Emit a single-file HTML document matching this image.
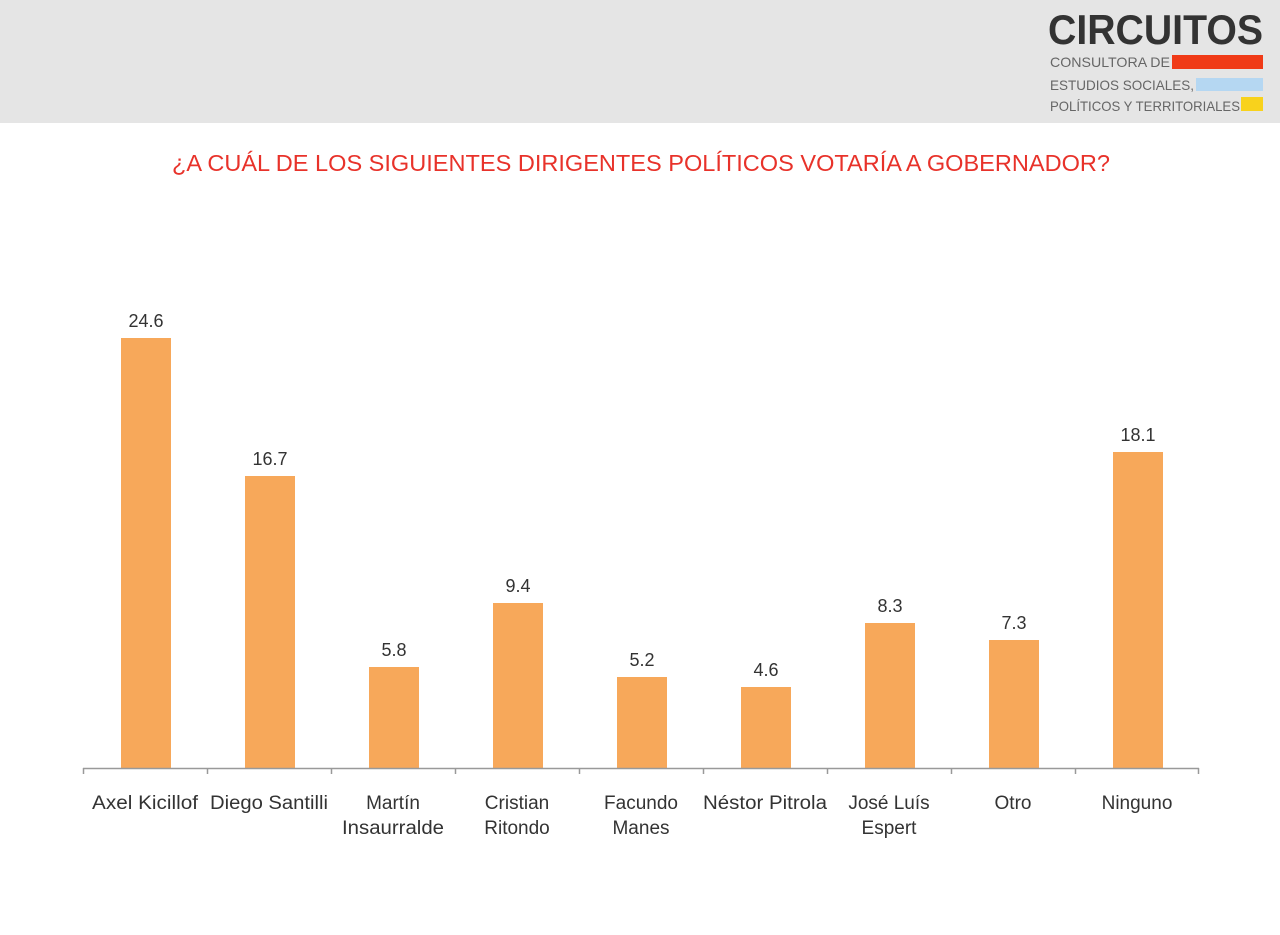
<!DOCTYPE html>
<html><head><meta charset="utf-8"><style>
body{margin:0;width:1280px;height:935px;background:#fff;font-family:"Liberation Sans",Arial,sans-serif;overflow:hidden;position:relative}
</style></head><body>
<svg width="1280" height="935" xmlns="http://www.w3.org/2000/svg" style="position:absolute;left:0;top:0">
<rect x="0" y="0" width="1280" height="123" fill="#e5e5e5"/>
<text x="1048" y="44" font-family="Liberation Sans" font-weight="bold" font-size="42" fill="#333" textLength="215" lengthAdjust="spacingAndGlyphs">CIRCUITOS</text>
<text x="1050" y="67" font-size="14" fill="#666" textLength="120" lengthAdjust="spacingAndGlyphs">CONSULTORA DE</text>
<rect x="1172" y="55" width="91" height="14" fill="#f03a17"/>
<text x="1050" y="90" font-size="14" fill="#666" textLength="144" lengthAdjust="spacingAndGlyphs">ESTUDIOS SOCIALES,</text>
<rect x="1196" y="78" width="67" height="13" fill="#b5d7f2"/>
<text x="1050" y="111" font-size="14" fill="#666" textLength="190" lengthAdjust="spacingAndGlyphs">POLÍTICOS Y TERRITORIALES</text>
<rect x="1241" y="97" width="22" height="14" fill="#f8d21c"/>
<text x="172" y="171" font-size="23" fill="#e8322a" textLength="938" lengthAdjust="spacingAndGlyphs">¿A CUÁL DE LOS SIGUIENTES DIRIGENTES POLÍTICOS VOTARÍA A GOBERNADOR?</text>
<g fill="#f7a85a">
<rect x="121" y="338" width="50" height="430"/>
<rect x="245" y="476" width="50" height="292"/>
<rect x="369" y="667" width="50" height="101"/>
<rect x="493" y="603" width="50" height="165"/>
<rect x="617" y="677" width="50" height="91"/>
<rect x="741" y="687" width="50" height="81"/>
<rect x="865" y="623" width="50" height="145"/>
<rect x="989" y="640" width="50" height="128"/>
<rect x="1113" y="452" width="50" height="316"/>
</g>
<g font-size="18" fill="#333" text-anchor="middle">
<text x="146" y="327">24.6</text>
<text x="270" y="465">16.7</text>
<text x="394" y="656">5.8</text>
<text x="518" y="592">9.4</text>
<text x="642" y="666">5.2</text>
<text x="766" y="676">4.6</text>
<text x="890" y="612">8.3</text>
<text x="1014" y="629">7.3</text>
<text x="1138" y="441">18.1</text>
</g>
<line x1="83" y1="768.5" x2="1199" y2="768.5" stroke="#999" stroke-width="1.5"/>
<g stroke="#999" stroke-width="1.5">
<line x1="83.5" y1="768" x2="83.5" y2="774"/><line x1="207.5" y1="768" x2="207.5" y2="774"/>
<line x1="331.5" y1="768" x2="331.5" y2="774"/><line x1="455.5" y1="768" x2="455.5" y2="774"/>
<line x1="579.5" y1="768" x2="579.5" y2="774"/><line x1="703.5" y1="768" x2="703.5" y2="774"/>
<line x1="827.5" y1="768" x2="827.5" y2="774"/><line x1="951.5" y1="768" x2="951.5" y2="774"/>
<line x1="1075.5" y1="768" x2="1075.5" y2="774"/><line x1="1198.5" y1="768" x2="1198.5" y2="774"/>
</g>
<g font-size="19" fill="#333" text-anchor="middle">
<text x="145" y="809" textLength="106" lengthAdjust="spacingAndGlyphs">Axel Kicillof</text>
<text x="269" y="809" textLength="118" lengthAdjust="spacingAndGlyphs">Diego Santilli</text>
<text x="393" y="809">Martín</text><text x="393" y="834" textLength="102" lengthAdjust="spacingAndGlyphs">Insaurralde</text>
<text x="517" y="809">Cristian</text><text x="517" y="834">Ritondo</text>
<text x="641" y="809">Facundo</text><text x="641" y="834">Manes</text>
<text x="765" y="809" textLength="124" lengthAdjust="spacingAndGlyphs">Néstor Pitrola</text>
<text x="889" y="809">José Luís</text><text x="889" y="834">Espert</text>
<text x="1013" y="809">Otro</text>
<text x="1137" y="809">Ninguno</text>
</g>
</svg>
</body></html>
